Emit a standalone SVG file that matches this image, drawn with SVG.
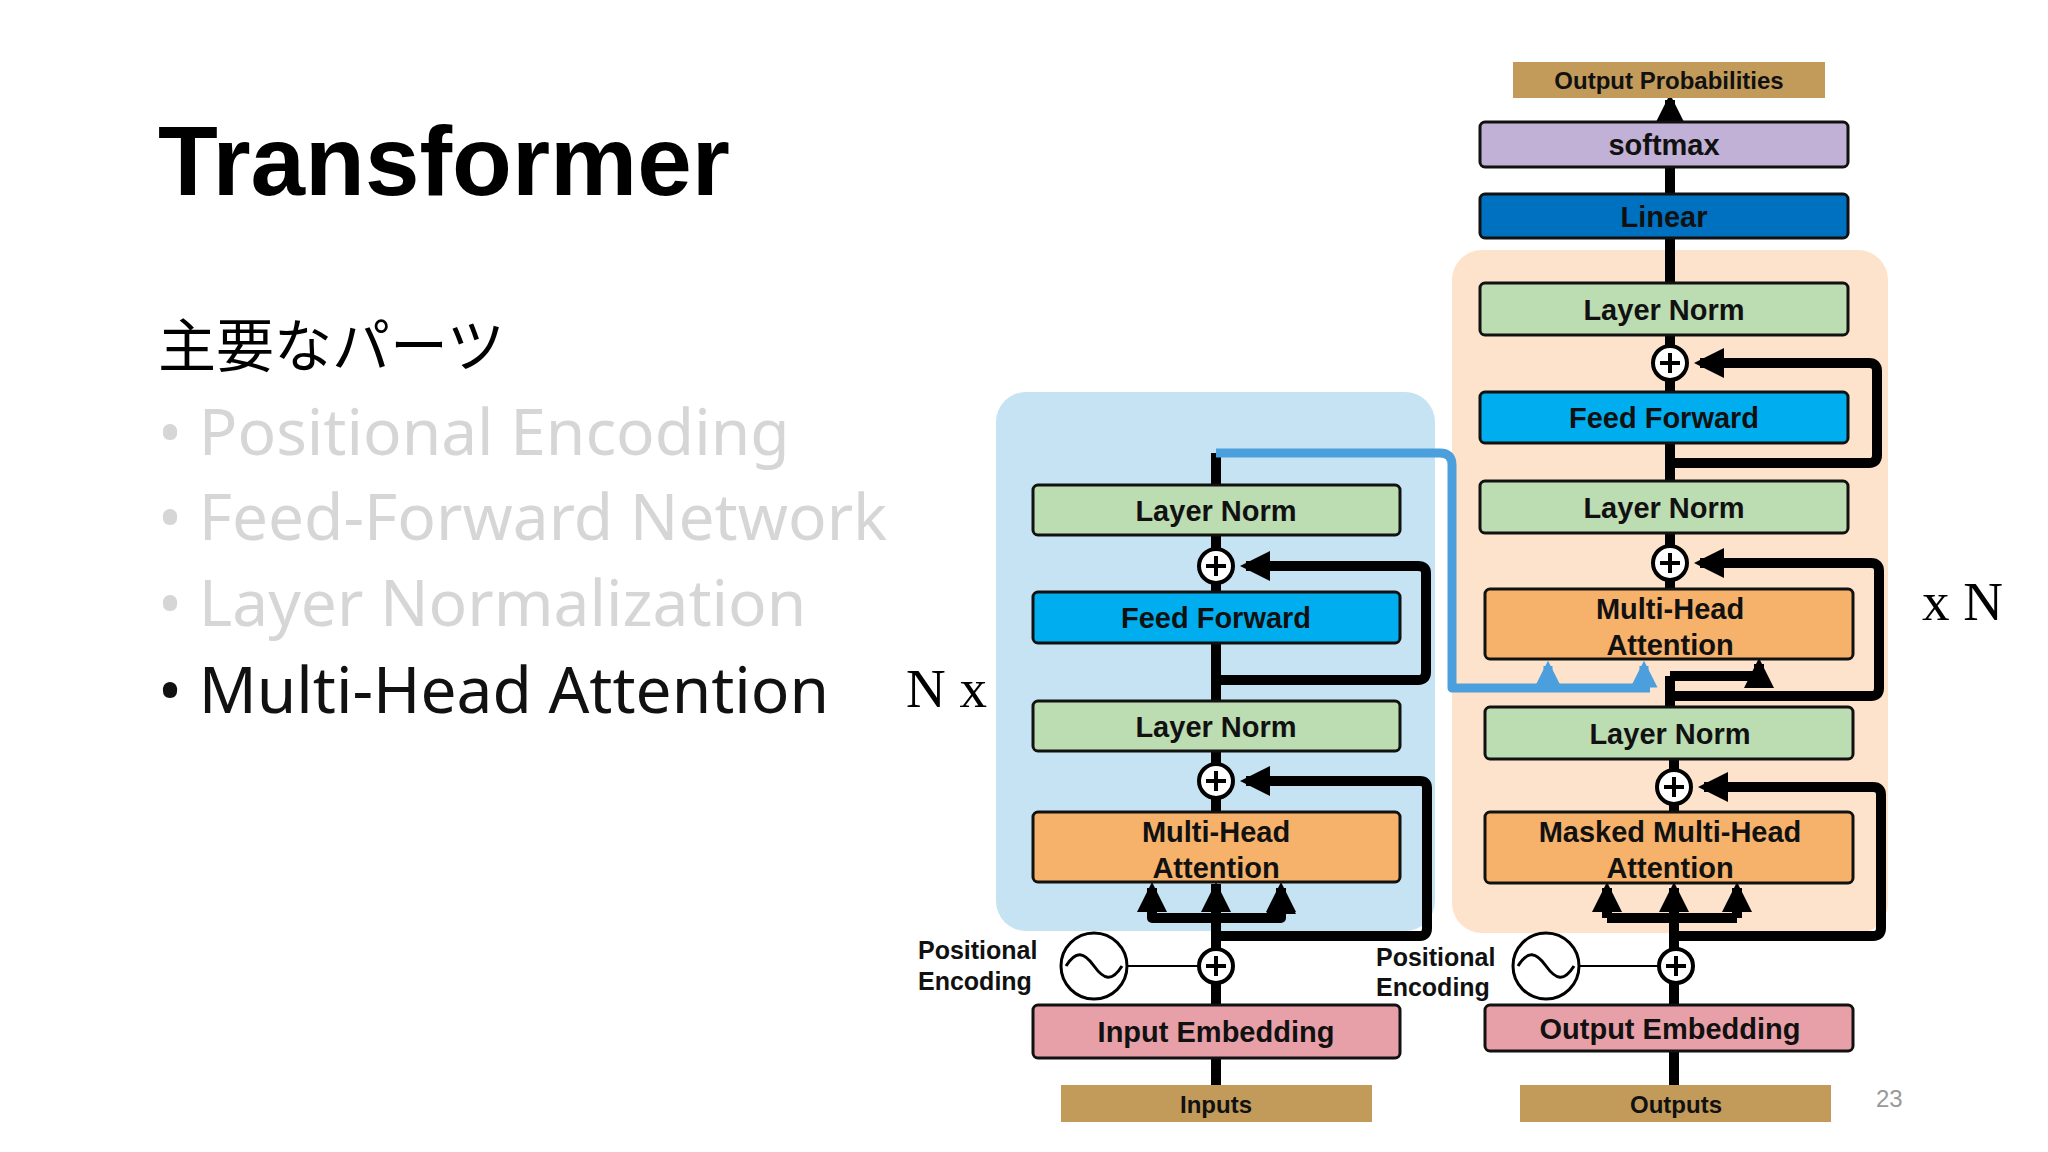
<svg xmlns="http://www.w3.org/2000/svg" width="2048" height="1152" viewBox="0 0 2048 1152">
<style>
.box{stroke:#111;stroke-width:3}
.ln{fill:#bcdcb2}.ff{fill:#00aeef}.mha{fill:#f6b26b}.emb{fill:#e8a0a8}.gold{fill:#c29a5a}
.lbl{font-family:"Liberation Sans",Arial,sans-serif;font-weight:bold;font-size:29px;fill:#111;text-anchor:middle}
.sm{font-family:"Liberation Sans",Arial,sans-serif;font-weight:bold;font-size:24px;fill:#111;text-anchor:middle}
.w{fill:none;stroke:#000;stroke-width:10;stroke-linejoin:round}
.blue{fill:none;stroke:#4a9fdc;stroke-width:9;stroke-linejoin:round}
.plus circle{fill:#fff;stroke:#000;stroke-width:4}
.plus path{stroke:#000;stroke-width:4}
.pe{font-family:"Liberation Sans",Arial,sans-serif;font-weight:bold;font-size:25px;fill:#111}
.bul{font-family:"Noto Sans","Liberation Sans",sans-serif;font-size:64px}
</style>
<defs>
<marker id="ah" viewBox="0 0 10 10" refX="8" refY="5" markerWidth="3" markerHeight="3" orient="auto"><path d="M0,0L10,5L0,10z" fill="#000"/></marker>
<marker id="ahb" viewBox="0 0 10 10" refX="8" refY="5" markerWidth="3" markerHeight="3" orient="auto"><path d="M0,0L10,5L0,10z" fill="#4a9fdc"/></marker>
<symbol id="pl" overflow="visible"><circle r="17" fill="#fff" stroke="#000" stroke-width="4"/><path d="M-10,0H10M0,-10V10" stroke="#000" stroke-width="4"/></symbol>
</defs>
<rect width="2048" height="1152" fill="#fff"/>
<text x="158" y="195" font-family="Liberation Sans,Arial,sans-serif" font-weight="bold" font-size="98">Transformer</text>
<text x="158" y="367" font-family="Noto Sans CJK JP,sans-serif" font-size="58">主要なパーツ</text>
<text class="bul" x="158" y="455" fill="#d6d6d6">• Positional Encoding</text>
<text class="bul" x="158" y="540" fill="#d6d6d6">• Feed-Forward Network</text>
<text class="bul" x="158" y="626" fill="#d6d6d6">• Layer Normalization</text>
<text class="bul" x="158" y="713" fill="#111">• Multi-Head Attention</text>
<rect x="996" y="392" width="439" height="539" rx="30" fill="#c6e3f3"/>
<rect x="1452" y="250" width="436" height="683" rx="30" fill="#fde3cb"/>
<g id="connectors">
<path class="w" d="M1216,1085V1058M1216,1005V983M1216,949V884M1152,888V918H1281V888M1216,812V798M1216,764V751M1216,701V643M1216,592V583M1216,549V535M1216,485V453"/>
<path class="w" d="M1152,918V890M1281,918V890" marker-end="url(#ah)"/>
<path class="w" d="M1216,949V888" marker-end="url(#ah)"/>
<path class="w" d="M1152,918V888" marker-end="url(#ah)"/>
<path class="w" d="M1281,918V888" marker-end="url(#ah)"/>
<path class="w" d="M1216,936H1420Q1427,936 1427,928V788Q1427,781 1420,781H1246" marker-end="url(#ah)"/>
<path class="w" d="M1216,680H1418Q1426,680 1426,672V573Q1426,566 1418,566H1246" marker-end="url(#ah)"/>
<path class="blue" d="M1216,453H1440Q1452,453 1452,465V688H1650"/>
<path class="blue" d="M1548,688V666" marker-end="url(#ahb)"/>
<path class="blue" d="M1644,688V666" marker-end="url(#ahb)"/>
<path class="w" d="M1674,1085V1051M1674,1005V983M1607,918H1737M1674,812V804M1674,770V759M1670,707V676M1670,589V580M1670,546V533M1670,481V443M1670,392V380M1670,346V335M1670,283V238M1670,194V167"/>
<path class="w" d="M1674,949V888" marker-end="url(#ah)"/>
<path class="w" d="M1607,918V888" marker-end="url(#ah)"/>
<path class="w" d="M1737,918V888" marker-end="url(#ah)"/>
<path class="w" d="M1670,676H1759V664" marker-end="url(#ah)"/>
<path class="w" d="M1674,936H1873Q1881,936 1881,928V795Q1881,787 1873,787H1704" marker-end="url(#ah)"/>
<path class="w" d="M1674,696H1871Q1879,696 1879,688V571Q1879,563 1871,563H1700" marker-end="url(#ah)"/>
<path class="w" d="M1670,463H1869Q1877,463 1877,455V371Q1877,363 1869,363H1700" marker-end="url(#ah)"/>
<path class="w" d="M1670,122V100" marker-end="url(#ah)"/>
<path d="M1127,966H1199M1579,966H1659" stroke="#000" stroke-width="2"/>
</g>
<g id="enc-ln2"><rect class="box ln" x="1033" y="485" width="367" height="50" rx="5"/><text class="lbl" x="1216" y="521">Layer Norm</text></g>
<g id="enc-ff"><rect class="box ff" x="1033" y="592" width="367" height="51" rx="5"/><text class="lbl" x="1216" y="628">Feed Forward</text></g>
<g id="enc-ln1"><rect class="box ln" x="1033" y="701" width="367" height="50" rx="5"/><text class="lbl" x="1216" y="737">Layer Norm</text></g>
<g id="enc-mha"><rect class="box mha" x="1033" y="812" width="367" height="70" rx="5"/><text class="lbl" x="1216" y="842">Multi-Head</text><text class="lbl" x="1216" y="878">Attention</text></g>
<g id="enc-emb"><rect class="box emb" x="1033" y="1005" width="367" height="53" rx="5"/><text class="lbl" x="1216" y="1042">Input Embedding</text></g>
<g id="inputs"><rect class="gold" x="1061" y="1085" width="311" height="37"/><text class="sm" x="1216" y="1113">Inputs</text></g>
<g id="enc-plus"><use href="#pl" x="1216" y="566"/><use href="#pl" x="1216" y="781"/><use href="#pl" x="1216" y="966"/></g>
<g id="enc-pe"><circle cx="1094" cy="966" r="33" fill="#fff" stroke="#000" stroke-width="3"/><path d="M1066,966C1076,950 1084,952 1094,966S1112,982 1122,966" fill="none" stroke="#000" stroke-width="3"/>
<text class="pe" x="918" y="959">Positional</text><text class="pe" x="918" y="990">Encoding</text></g>
<text x="906" y="707" font-family="Liberation Serif,serif" font-size="55">N x</text>
<g id="outprob"><rect class="gold" x="1513" y="62" width="312" height="36"/><text class="sm" x="1669" y="89">Output Probabilities</text></g>
<g id="softmax"><rect class="box" fill="#c1b1d6" x="1480" y="122" width="368" height="45" rx="5"/><text class="lbl" x="1664" y="155">softmax</text></g>
<g id="linear"><rect class="box" fill="#0070c0" x="1480" y="194" width="368" height="44" rx="5"/><text class="lbl" x="1664" y="227">Linear</text></g>
<g id="dec-ln3"><rect class="box ln" x="1480" y="283" width="368" height="52" rx="5"/><text class="lbl" x="1664" y="320">Layer Norm</text></g>
<g id="dec-ff"><rect class="box ff" x="1480" y="392" width="368" height="51" rx="5"/><text class="lbl" x="1664" y="428">Feed Forward</text></g>
<g id="dec-ln2"><rect class="box ln" x="1480" y="481" width="368" height="52" rx="5"/><text class="lbl" x="1664" y="518">Layer Norm</text></g>
<g id="dec-mha"><rect class="box mha" x="1485" y="589" width="368" height="70" rx="5"/><text class="lbl" x="1670" y="619">Multi-Head</text><text class="lbl" x="1670" y="655">Attention</text></g>
<g id="dec-ln1"><rect class="box ln" x="1485" y="707" width="368" height="52" rx="5"/><text class="lbl" x="1670" y="744">Layer Norm</text></g>
<g id="dec-mmha"><rect class="box mha" x="1485" y="812" width="368" height="71" rx="5"/><text class="lbl" x="1670" y="842">Masked Multi-Head</text><text class="lbl" x="1670" y="878">Attention</text></g>
<g id="dec-emb"><rect class="box emb" x="1485" y="1005" width="368" height="46" rx="5"/><text class="lbl" x="1670" y="1039">Output Embedding</text></g>
<g id="outputs"><rect class="gold" x="1520" y="1085" width="311" height="37"/><text class="sm" x="1676" y="1113">Outputs</text></g>
<g id="dec-plus"><use href="#pl" x="1670" y="363"/><use href="#pl" x="1670" y="563"/><use href="#pl" x="1674" y="787"/><use href="#pl" x="1676" y="966"/></g>
<g id="dec-pe"><circle cx="1546" cy="966" r="33" fill="#fff" stroke="#000" stroke-width="3"/><path d="M1518,966C1528,950 1536,952 1546,966S1564,982 1574,966" fill="none" stroke="#000" stroke-width="3"/>
<text class="pe" x="1376" y="966">Positional</text><text class="pe" x="1376" y="996">Encoding</text></g>
<text x="1922" y="620" font-family="Liberation Serif,serif" font-size="55">x N</text>
<text x="1876" y="1107" font-family="Liberation Sans,sans-serif" font-size="24" fill="#999">23</text>
</svg>
